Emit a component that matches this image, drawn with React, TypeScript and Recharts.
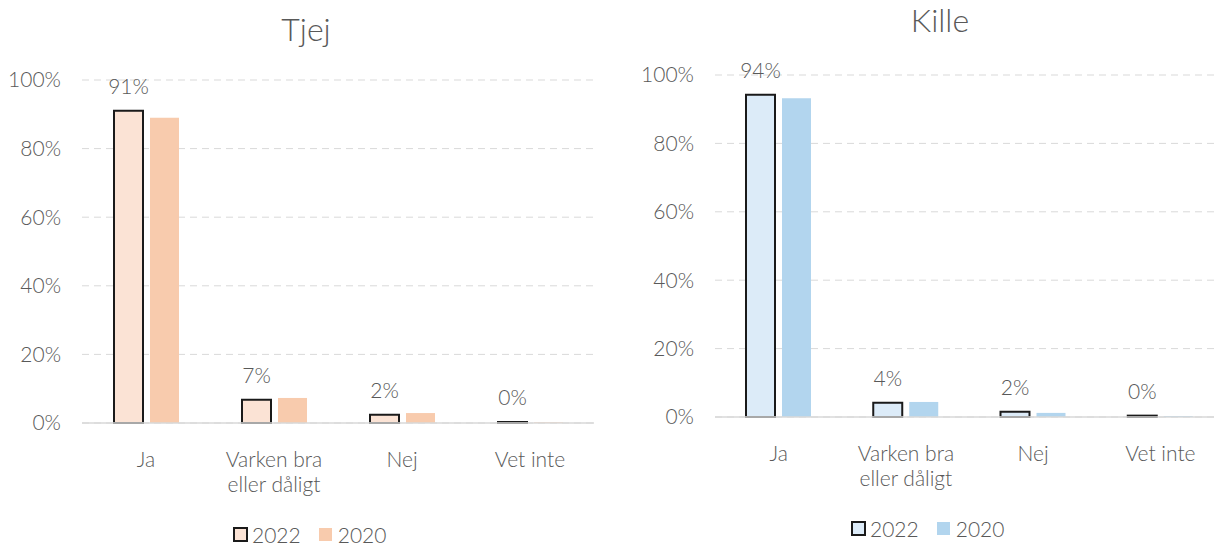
import React from 'react';
import { BarChart, Bar, XAxis, YAxis, CartesianGrid, LabelList } from 'recharts';

const CATEGORIES = ['Ja', 'Varken bra eller dåligt', 'Nej', 'Vet inte'];
const TJEJ_2022 = [91, 6.8, 2.4, 0.3];
const TJEJ_2020 = [89, 7.3, 2.9, 0.2];
const KILLE_2022 = [94.2, 4.2, 1.5, 0.4];
const KILLE_2020 = [93.2, 4.4, 1.2, 0.3];
const Y_TICKS = [0, 20, 40, 60, 80, 100];
const SERIES = ['2022', '2020'];

const FONT = 'Lato, "Open Sans", sans-serif';
const TEXT = '#595959';
const GRID = '#d9d9d9';

const PEACH_LIGHT = '#fbe3d5';
const PEACH = '#f8cbad';
const BLUE_LIGHT = '#dcebf8';
const BLUE = '#b2d5ee';

const build = (a: number[], b: number[]) =>
  CATEGORIES.map((name, i) => ({ name, y2022: a[i], y2020: b[i] }));

const tjejData = build(TJEJ_2022, TJEJ_2020);
const killeData = build(KILLE_2022, KILLE_2020);

// greedy word wrap, ~12 chars per line
const wrap = (s: string, max = 12) => {
  const lines: string[] = [];
  s.split(' ').forEach((w) => {
    const last = lines[lines.length - 1];
    if (last && (last + ' ' + w).length <= max) lines[lines.length - 1] = last + ' ' + w;
    else lines.push(w);
  });
  return lines;
};

const CatTick = (props: any) => {
  const { x, y, payload } = props;
  return (
    <text x={x} y={y + 36} textAnchor="middle" fill={TEXT} fontSize={21} fontWeight={300} fontFamily={FONT}>
      {wrap(String(payload.value)).map((line, i) => (
        <tspan key={i} x={x} dy={i === 0 ? 0 : 25}>{line}</tspan>
      ))}
    </text>
  );
};

function Panel({
  data, width, marginLeft, yWidth, top, bottom, right, light, dark,
}: {
  data: { name: string; y2022: number; y2020: number }[];
  width: number; marginLeft: number; yWidth: number;
  top: number; bottom: number; right: number; light: string; dark: string;
}) {
  return (
    <BarChart
      width={width}
      height={546}
      data={data}
      margin={{ top, right, left: marginLeft, bottom }}
      barSize={29}
      barGap={7}
    >
      <CartesianGrid stroke={GRID} strokeDasharray="7 5" vertical={false} />
      <XAxis
        dataKey="name"
        height={60}
        tickLine={false}
        axisLine={{ stroke: GRID, strokeWidth: 1.5 }}
        tick={<CatTick />}
        interval={0}
      />
      <YAxis
        width={yWidth}
        domain={[0, 100]}
        ticks={Y_TICKS}
        tickFormatter={(v) => `${v}%`}
        tickLine={false}
        axisLine={false}
        tickMargin={15}
        tick={{ fill: TEXT, fontSize: 21, fontWeight: 300, fontFamily: FONT }}
      />
      <Bar dataKey="y2022" name={SERIES[0]} fill={light} stroke="#1a1a1a" strokeWidth={2} isAnimationActive={false}>
        <LabelList
          dataKey="y2022"
          position="top"
          offset={17}
          formatter={(v: any) => `${Math.round(Number(v))}%`}
          fill={TEXT}
          fontSize={21}
          fontWeight={300}
          fontFamily={FONT}
        />
      </Bar>
      <Bar dataKey="y2020" name={SERIES[1]} fill={dark} isAnimationActive={false} />
    </BarChart>
  );
}

function LegendRow({ light, dark, left, top }: { light: string; dark: string; left: number; top: number }) {
  const item = { display: 'flex', alignItems: 'center', marginRight: 18 } as React.CSSProperties;
  return (
    <div style={{ position: 'absolute', left, top, display: 'flex', fontFamily: FONT, fontWeight: 300, fontSize: 21, color: TEXT }}>
      <div style={item}>
        <span style={{ width: 11, height: 11, background: light, border: '2px solid #1a1a1a', marginRight: 4 }} />
        {SERIES[0]}
      </div>
      <div style={item}>
        <span style={{ width: 13, height: 13, background: dark, marginRight: 6 }} />
        {SERIES[1]}
      </div>
    </div>
  );
}

export default function App() {
  const title = { position: 'absolute', fontFamily: FONT, fontWeight: 300, fontSize: 32, lineHeight: '38px', color: TEXT, transform: 'translateX(-50%)' } as React.CSSProperties;
  return (
    <div style={{ position: 'absolute', left: 0, top: 0, width: 1214, height: 546, overflow: 'hidden', background: '#fff' }}>
      <div style={{ ...title, left: 306, top: 10 }}>Tjej</div>
      <div style={{ ...title, left: 940, top: 1 }}>Kille</div>
      <div style={{ position: 'absolute', left: 0, top: 0 }}>
        <Panel
          data={tjejData} width={607} marginLeft={0} yWidth={82}
          top={80} bottom={63} right={13} light={PEACH_LIGHT} dark={PEACH}
        />
      </div>
      <div style={{ position: 'absolute', left: 607, top: 0 }}>
        <Panel
          data={killeData} width={617} marginLeft={40} yWidth={68}
          top={75} bottom={69} right={0} light={BLUE_LIGHT} dark={BLUE}
        />
      </div>
      <LegendRow light={PEACH_LIGHT} dark={PEACH} left={233} top={522} />
      <LegendRow light={BLUE_LIGHT} dark={BLUE} left={851} top={516} />
    </div>
  );
}
